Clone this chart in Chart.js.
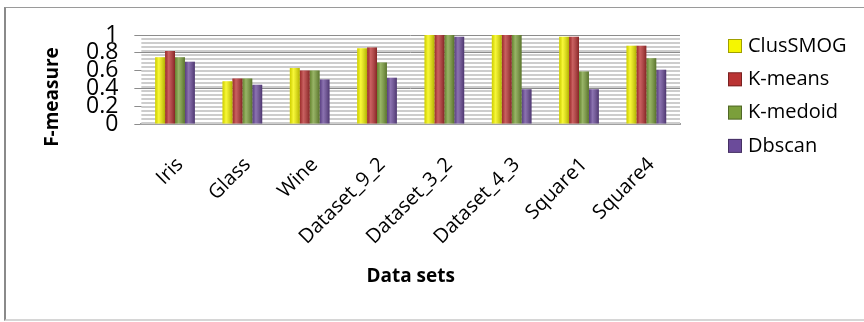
<!DOCTYPE html>
<html>
<head>
<meta charset="utf-8">
<script src="https://cdn.jsdelivr.net/npm/chart.js@4.4.0/dist/chart.umd.min.js"></script>
<style>
    html, body { margin: 0; padding: 0; background: #fff; }
    #quadro { position: relative; width: 864px; height: 322px; overflow: hidden; }
    #borda {
        position: absolute; left: 4px; top: 7px; width: 900px; height: 314px;
        border-left: 2px solid #8a8a8a; border-top: 1px solid #9a9a9a; border-bottom: 2px solid #d6d6d6;
        box-sizing: border-box;
    }
    #grafico { position: absolute; left: 0; top: 0; }
</style>
</head>
<body>
<div id="quadro">
    <div id="borda"></div>
    <canvas id="grafico" width="864" height="322"></canvas>
</div>
<script>
    // dados
    const categorias = ['Iris', 'Glass', 'Wine', 'Dataset_9_2', 'Dataset_3_2', 'Dataset_4_3', 'Square1', 'Square4'];
    const clusSMOG = [0.75, 0.48, 0.63, 0.85, 1.00, 1.00, 0.98, 0.88];
    const kMeans   = [0.82, 0.51, 0.60, 0.86, 1.00, 1.00, 0.98, 0.88];
    const kMedoid  = [0.75, 0.51, 0.60, 0.69, 1.00, 1.00, 0.59, 0.74];
    const dbscan   = [0.70, 0.44, 0.50, 0.52, 0.98, 0.39, 0.39, 0.61];
    const ticksY   = [0, 0.2, 0.4, 0.6, 0.8, 1];

    const fonte = "'Open Sans', 'DejaVu Sans', sans-serif";

    // parede listrada atras das barras (efeito 3D do excel)
    const fundoParede = {
        id: 'fundoParede',
        beforeDatasetsDraw(chart) {
            const { ctx, chartArea } = chart;
            ctx.save();
            ctx.fillStyle = '#cdcdcd';
            for (let y = chartArea.bottom - 2; y > chartArea.top; y -= 4) {
                ctx.fillRect(chartArea.left, y, chartArea.right - chartArea.left, 2);
            }
            ctx.restore();
        }
    };

    // brilho tipo cilindro sobre cada barra
    const brilhoBarras = {
        id: 'brilhoBarras',
        afterDatasetsDraw(chart) {
            const ctx = chart.ctx;
            ctx.save();
            chart.data.datasets.forEach((ds, i) => {
                chart.getDatasetMeta(i).data.forEach(barra => {
                    const p = barra.getProps(['x', 'y', 'base', 'width'], true);
                    const esq = p.x - p.width / 2;
                    const g = ctx.createLinearGradient(esq, 0, esq + p.width, 0);
                    g.addColorStop(0, 'rgba(0,0,0,0.15)');
                    g.addColorStop(0.35, 'rgba(255,255,255,0.22)');
                    g.addColorStop(1, 'rgba(0,0,0,0.28)');
                    ctx.fillStyle = g;
                    ctx.fillRect(esq, p.y, p.width, p.base - p.y);
                });
            });
            ctx.restore();
        }
    };

    // legenda do lado direito e titulo do eixo Y
    const legendaLateral = {
        id: 'legendaLateral',
        afterDraw(chart) {
            const ctx = chart.ctx;
            ctx.save();
            ctx.font = `20px ${fonte}`;
            ctx.textBaseline = 'middle';
            ctx.textAlign = 'left';
            chart.data.datasets.forEach((ds, i) => {
                const y = 46 + i * 33.3;
                ctx.fillStyle = ds.backgroundColor;
                ctx.fillRect(728, y - 7, 14, 14);
                ctx.strokeStyle = 'rgba(0,0,0,0.35)';
                ctx.lineWidth = 1;
                ctx.strokeRect(728.5, y - 6.5, 13, 13);
                ctx.fillStyle = '#000';
                ctx.fillText(ds.label, 748, y);
            });

            ctx.translate(53, 97);
            ctx.rotate(-Math.PI / 2);
            ctx.font = `bold 19px ${fonte}`;
            ctx.textAlign = 'center';
            ctx.fillText('F-measure', 0, 0);
            ctx.restore();
        }
    };

    new Chart(document.getElementById('grafico'), {
        type: 'bar',
        data: {
            labels: categorias,
            datasets: [
                { label: 'ClusSMOG', data: clusSMOG, backgroundColor: '#f6f600' },
                { label: 'K-means', data: kMeans, backgroundColor: '#ba3434' },
                { label: 'K-medoid', data: kMedoid, backgroundColor: '#7b9f3b' },
                { label: 'Dbscan', data: dbscan, backgroundColor: '#6b4b9a' }
            ]
        },
        options: {
            responsive: false,
            animation: false,
            categoryPercentage: 0.59,
            barPercentage: 1,
            layout: { padding: { left: 70, right: 184, top: 35, bottom: 34 } },
            plugins: {
                legend: { display: false },
                tooltip: { enabled: false }
            },
            scales: {
                x: {
                    // o eixo precisa de mais da metade da altura, entao a altura e fixada aqui
                    afterFit(scale) {
                        scale.height = 164;
                    },
                    grid: { display: false },
                    border: { display: true, color: '#a0a0a0', width: 2 },
                    ticks: {
                        autoSkip: false,
                        minRotation: 45,
                        maxRotation: 45,
                        padding: 21,
                        labelOffset: 5,
                        color: '#000',
                        font: { family: fonte, size: 20 }
                    },
                    title: {
                        display: true,
                        text: 'Data sets',
                        color: '#000',
                        font: { family: fonte, size: 19, weight: 'bold' },
                        padding: { top: 10, bottom: 0 }
                    }
                },
                y: {
                    min: 0,
                    max: 1,
                    afterBuildTicks(scale) {
                        scale.ticks = ticksY.map(v => ({ value: v }));
                    },
                    grid: { color: '#8c8c8c', tickLength: 7, lineWidth: 1 },
                    border: { display: false },
                    ticks: {
                        autoSkip: false,
                        padding: 16,
                        color: '#000',
                        font: { family: fonte, size: 23 },
                        callback: v => String(v)
                    }
                }
            }
        },
        plugins: [fundoParede, brilhoBarras, legendaLateral]
    });
</script>
</body>
</html>
